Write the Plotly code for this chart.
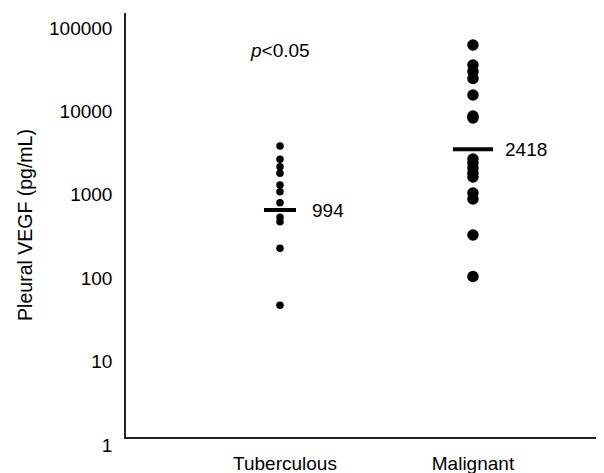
import numpy as np
import plotly.graph_objects as go

categories = ["Tuberculous", "Malignant"]
tuberculous_values = [3085, 2136, 1742, 1452, 1051, 874, 645, 431, 382, 183, 38]
malignant_values = [50100, 28850, 24150, 19890, 12610, 7060, 6700,
                    2154, 1929, 1680, 1464, 1312, 843, 714, 264, 84]
median_line_values = [527, 2817]
median_labels = ["994", "2418"]
p_label = "<i>p</i>&lt;0.05"
y_tick_values = [1, 10, 100, 1000, 10000, 100000]
y_tick_labels = ["1", "10", "100", "1000", "10000", "100000"]

FONT = "Liberation Sans, Arial, sans-serif"
FS = 19
xpos = [1, 2]

fig = go.Figure()
fig.add_trace(go.Scatter(x=[xpos[0]] * len(tuberculous_values), y=tuberculous_values,
                         mode="markers", marker=dict(size=7.5, color="black"),
                         showlegend=False, hoverinfo="y"))
fig.add_trace(go.Scatter(x=[xpos[1]] * len(malignant_values), y=malignant_values,
                         mode="markers", marker=dict(size=11.5, color="black"),
                         showlegend=False, hoverinfo="y"))

half_widths = [0.083, 0.104]
for xp, hw, mv, lab in zip(xpos, half_widths, median_line_values, median_labels):
    fig.add_trace(go.Scatter(x=[xp - hw, xp + hw], y=[mv, mv], mode="lines",
                             line=dict(color="black", width=4), showlegend=False,
                             hoverinfo="skip"))
    fig.add_annotation(x=xp + 0.155, y=np.log10(mv), text=lab, showarrow=False,
                       xanchor="left", yanchor="middle",
                       font=dict(family=FONT, size=FS, color="black"))

fig.add_annotation(x=xpos[0], y=4.64, text=p_label, showarrow=False,
                   xanchor="center", yanchor="middle",
                   font=dict(family=FONT, size=FS, color="black"))

fig.update_layout(
    width=596, height=465,
    margin=dict(l=118, r=0, t=5, b=36, autoexpand=False),
    paper_bgcolor="white", plot_bgcolor="white",
    font=dict(family=FONT, size=FS, color="black"),
    xaxis=dict(range=[0.202, 2.679], tickvals=[1.026, 2.0], ticktext=categories,
               showline=True, linecolor="#222", linewidth=1.5, showgrid=False,
               zeroline=False, ticks="", ticklabelstandoff=8,
               ticklabeloverflow="allow",
               tickfont=dict(family=FONT, size=FS, color="black")),
    yaxis=dict(type="log", range=[0, 5.084], tickvals=y_tick_values,
               ticktext=y_tick_labels, showline=True, linecolor="#222",
               linewidth=1.5, showgrid=False, zeroline=False, ticks="",
               ticklabelstandoff=8, ticklabelshift=8,
               ticklabeloverflow="allow",
               tickfont=dict(family=FONT, size=FS, color="black")),
)
fig.update_yaxes(title=dict(text="Pleural VEGF (pg/mL)", standoff=11,
                            font=dict(family=FONT, size=19.5, color="black")))

fig.write_html("out.html")
